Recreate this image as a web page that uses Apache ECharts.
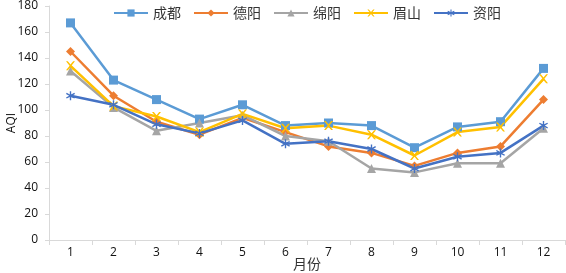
<!DOCTYPE html>
<html>
<head>
<meta charset="utf-8">
<script src="https://cdn.jsdelivr.net/npm/echarts@6/dist/echarts.min.js"></script>
<style>
  html, body { margin: 0; padding: 0; background: #fff; }
  #chart { width: 566px; height: 273px; }
</style>
</head>
<body>
<div id="chart"></div>
<script>
var months = ['1', '2', '3', '4', '5', '6', '7', '8', '9', '10', '11', '12'];
var chengdu = [167, 123, 108, 93, 104, 88, 90, 88, 71, 87, 91, 132];
var deyang = [145, 111, 91, 81, 94, 83, 72, 67, 57, 67, 72, 108];
var mianyang = [130, 102, 84, 90, 96, 80, 76, 55, 52, 59, 59, 86];
var meishan = [134, 103, 95, 83, 97, 86, 88, 81, 65, 83, 87, 124];
var ziyang = [111, 104, 89, 82, 92, 74, 76, 70, 55, 64, 67, 88];

var xMark = 'path://M0,0L2,0L5,3.5L8,0L10,0L6,5L10,10L8,10L5,6.5L2,10L0,10L4,5Z';
var starMark = 'path://M4.3,0L5.7,0L5.7,3.6L8.9,1.8L9.6,3L6.4,5L9.6,7L8.9,8.2L5.7,6.4L5.7,10L4.3,10L4.3,6.4L1.1,8.2L0.4,7L3.6,5L0.4,3L1.1,1.8L4.3,3.6Z';
var numFont = 'Open Sans, Noto Sans CJK SC, sans-serif';

function mkSeries(name, data, color, symbol, size) {
    return {
        name: name,
        type: 'line',
        data: data,
        symbol: symbol,
        symbolSize: size,
        lineStyle: { color: color, width: 2.5 },
        itemStyle: { color: color },
        z: 2
    };
}

var chart = echarts.init(document.getElementById('chart'));
chart.setOption({
    animation: false,
    textStyle: { fontFamily: 'Noto Sans CJK SC, sans-serif' },
    legend: {
        top: 1,
        left: 108,
        itemWidth: 34,
        itemHeight: 9,
        itemGap: 12,
        textStyle: { fontSize: 14, color: '#333' },
        data: ['成都', '德阳', '绵阳', '眉山', '资阳']
    },
    grid: { left: 49, right: 1, top: 6, bottom: 33, outerBoundsMode: 'none', containLabel: false },
    xAxis: {
        type: 'category',
        data: months,
        name: '月份',
        nameLocation: 'middle',
        nameMoveOverlap: false,
        nameGap: 17,
        nameTextStyle: { fontSize: 14, color: '#333' },
        axisLine: { lineStyle: { color: '#d9d9d9' } },
        axisTick: { show: true, lineStyle: { color: '#d9d9d9' } },
        axisLabel: { fontSize: 12, color: '#111', margin: 7, fontFamily: numFont }
    },
    yAxis: {
        type: 'value',
        min: 0,
        max: 180,
        interval: 20,
        name: 'AQI',
        nameLocation: 'middle',
        nameMoveOverlap: false,
        nameGap: 31,
        nameTextStyle: { fontSize: 12, color: '#111', fontFamily: numFont },
        axisLine: { show: true, lineStyle: { color: '#d9d9d9' } },
        axisTick: { show: true, length: 4, lineStyle: { color: '#d9d9d9' } },
        splitLine: { show: false },
        axisLabel: { fontSize: 12, color: '#111', margin: 11, fontFamily: numFont }
    },
    series: [
        mkSeries('成都', chengdu, '#5b9bd5', 'rect', 9),
        mkSeries('德阳', deyang, '#ed7d31', 'diamond', 9),
        mkSeries('绵阳', mianyang, '#a5a5a5', 'triangle', 9),
        mkSeries('眉山', meishan, '#ffc000', xMark, 9),
        mkSeries('资阳', ziyang, '#4472c4', starMark, 9)
    ]
});
</script>
</body>
</html>
